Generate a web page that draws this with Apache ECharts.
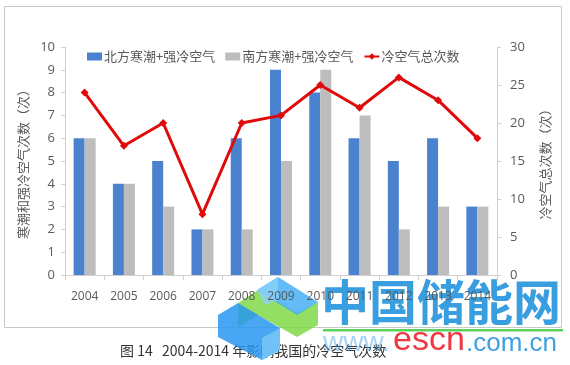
<!DOCTYPE html>
<html><head><meta charset="utf-8">
<script src="https://cdn.jsdelivr.net/npm/echarts@6/dist/echarts.min.js"></script>
<style>html,body{margin:0;padding:0;background:#fff}#c{width:570px;height:365px}</style>
</head><body><div id="c"></div>
<script>
const years = ['2004','2005','2006','2007','2008','2009','2010','2011','2012','2013','2014'];
const north = [6,4,5,2,6,9,8,6,5,6,3];
const south = [6,4,3,2,2,5,9,7,2,3,3];
const total = [24,17,20,8,20,21,25,22,26,23,18];
const leftTicks = [0,10,1];
const rightTicks = [0,30,5];

const chart = echarts.init(document.getElementById('c'));
const cjk = '"Noto Sans CJK SC", sans-serif';
const axisTxt = {color:'#595959', fontSize:12, fontFamily:'"Open Sans", "Liberation Sans", sans-serif'};
chart.setOption({
  animation:false,
  grid:{left:65, right:73, top:47, bottom:90},
  legend:{
    top:45, left:82, itemGap:10, itemWidth:15, itemHeight:8,
    textStyle:{color:'#595959', fontSize:13, fontFamily:cjk, padding:[0,0,0,-3]},
    data:[{name:'北方寒潮+强冷空气', icon:'rect'},{name:'南方寒潮+强冷空气', icon:'rect'},{name:'冷空气总次数'}]
  },
  xAxis:{type:'category', data:years,
    axisLine:{lineStyle:{color:'#d0d0d0'}},
    axisTick:{show:true, lineStyle:{color:'#d0d0d0'}, length:5},
    axisLabel:Object.assign({margin:16}, axisTxt)},
  yAxis:[
    {type:'value', min:leftTicks[0], max:leftTicks[1], interval:leftTicks[2],
     name:'寒潮和强冷空气次数（次）', nameLocation:'middle', nameGap:34, nameRotate:90,
     nameTextStyle:{color:'#595959', fontSize:13, fontFamily:cjk},
     axisLine:{show:true, lineStyle:{color:'#d0d0d0'}},
     axisTick:{show:true, lineStyle:{color:'#d0d0d0'}, length:4},
     splitLine:{show:false},
     axisLabel:Object.assign({margin:10}, axisTxt, {fontSize:13})},
    {type:'value', min:rightTicks[0], max:rightTicks[1], interval:rightTicks[2],
     name:'冷空气总次数（次）', nameLocation:'middle', nameGap:42, nameRotate:90,
     nameTextStyle:{color:'#595959', fontSize:13, fontFamily:cjk},
     axisLine:{show:true, lineStyle:{color:'#d0d0d0'}},
     axisTick:{show:true, lineStyle:{color:'#d0d0d0'}, length:4},
     splitLine:{show:false},
     axisLabel:Object.assign({margin:13}, axisTxt, {fontSize:13})}
  ],
  series:[
    {name:'北方寒潮+强冷空气', type:'bar', data:north, barWidth:11, barGap:'0%', itemStyle:{color:'#4a82cf'}},
    {name:'南方寒潮+强冷空气', type:'bar', data:south, barWidth:11, barGap:'0%', itemStyle:{color:'#bdbdbd'}},
    {name:'冷空气总次数', type:'line', yAxisIndex:1, data:total, symbol:'diamond', symbolSize:8,
     lineStyle:{color:'#e00a0a', width:3}, itemStyle:{color:'#e00a0a'}}
  ],
  graphic:[
    {type:'rect', shape:{x:4.5,y:6.5,width:557,height:321}, style:{fill:'none', stroke:'#c8c8c8', lineWidth:1}, z:-1},
    {type:'text', x:120, y:351, style:{text:'图 14   2004-2014 年影响我国的冷空气次数', fill:'#333', verticalAlign:'middle', font:'14px "Noto Sans CJK SC", sans-serif'}},
    {type:'polygon', shape:{points:[[238,303],[258,290],[297,313],[318,302],[318,325],[297,337],[258,315],[238,327]]}, style:{fill:'rgba(120,215,60,0.8)'}},
    {type:'polygon', shape:{points:[[257,290],[278,277],[318,302],[297,315]]}, style:{fill:'rgba(60,170,245,0.8)'}},
    {type:'polygon', shape:{points:[[257,290],[278,277],[278,300],[265,305]]}, style:{fill:'rgba(140,210,250,0.8)'}},
    {type:'polygon', shape:{points:[[218,315],[238,303],[280,328],[280,350],[262,360],[218,337]]}, style:{fill:'rgba(40,150,240,0.85)'}},
    {type:'polygon', shape:{points:[[262,338],[280,328],[280,350],[262,360]]}, style:{fill:'rgba(120,200,250,0.85)'}},
    {type:'text', x:321, y:302, style:{text:'中国储能网', fill:'rgba(40,150,220,0.92)', verticalAlign:'middle', font:'bold 48px "Noto Sans CJK SC", sans-serif'}},
    {type:'rect', shape:{x:323,y:329,width:240,height:2.5}, style:{fill:'rgba(70,205,70,0.9)'}},
    {type:'text', x:323, y:343, style:{text:'www.', fill:'rgba(60,160,230,0.45)', verticalAlign:'middle', font:'28px "Liberation Sans", sans-serif'}},
    {type:'text', x:393, y:341, style:{text:'escn', fill:'rgba(235,40,50,0.92)', verticalAlign:'middle', font:'34px "Liberation Sans", sans-serif'}},
    {type:'text', x:466, y:344, style:{text:'.com.cn', fill:'rgba(40,150,220,0.9)', verticalAlign:'middle', font:'26px "Liberation Sans", sans-serif'}}
  ]
});
</script></body></html>
